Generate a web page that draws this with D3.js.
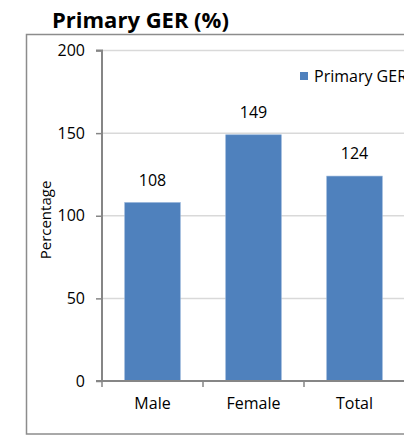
<!DOCTYPE html>
<html>
<head>
<meta charset="utf-8">
<script src="https://cdn.jsdelivr.net/npm/d3@7"></script>
<style>
  html, body { margin: 0; padding: 0; background: #fff; }
  svg { display: block; font-family: "Open Sans", Lato, sans-serif; }
</style>
</head>
<body>
<div id="chart"></div>
<script>
// Primary gross enrolment ratio by sex
const categories = ["Male", "Female", "Total"];
const values = [108, 149, 124];
const yTicks = [0, 50, 100, 150, 200];
const seriesName = "Primary GER";
const title = "Primary GER (%)";
const yLabel = "Percentage";

const W = 404, H = 436;
const FONT = "'Open Sans', Lato, sans-serif";
const svg = d3.select("#chart").append("svg")
  .attr("width", W).attr("height", H);

// chart frame (right edge runs past the window)
svg.append("rect")
  .attr("x", 26.5).attr("y", 34.5)
  .attr("width", 420).attr("height", 399.5)
  .attr("fill", "none").attr("stroke", "#8c8c8c").attr("stroke-width", 1.5);

svg.append("text")
  .attr("x", 52).attr("y", 28)
  .attr("font-size", 22).attr("font-weight", "bold")
  .attr("fill", "#000")
  .text(title);

const x = d3.scaleBand()
  .domain(categories)
  .range([102, 405])
  .paddingInner(0.45)
  .paddingOuter(0.225);

const y = d3.scaleLinear().domain([0, 200]).range([381, 50.5]);

// horizontal gridlines
svg.append("g").selectAll("line")
  .data(yTicks.filter(d => d > 0))
  .join("line")
  .attr("x1", 102).attr("x2", W)
  .attr("y1", d => y(d)).attr("y2", d => y(d))
  .attr("stroke", "#d9d9d9").attr("stroke-width", 1.5);

// bars
svg.append("g").selectAll("rect")
  .data(values)
  .join("rect")
  .attr("x", (d, i) => x(categories[i]))
  .attr("y", d => y(d))
  .attr("width", x.bandwidth())
  .attr("height", d => y(0) - y(d))
  .attr("fill", "#4f81bd")
  .attr("stroke", "#8fb0d8").attr("stroke-width", 0.6);

// value labels
svg.append("g").selectAll("text")
  .data(values)
  .join("text")
  .attr("x", (d, i) => x(categories[i]) + x.bandwidth() / 2)
  .attr("y", d => y(d) - 17)
  .attr("text-anchor", "middle")
  .attr("font-size", 16)
  .attr("fill", "#000")
  .text(d => d);

// y axis
const yAxis = d3.axisLeft(y).tickValues(yTicks).tickSize(6).tickPadding(11);
const gy = svg.append("g").attr("transform", "translate(102,0)").call(yAxis);
gy.select(".domain").attr("stroke", "#868686").attr("stroke-width", 2)
  .attr("d", `M-6,${y(200)}H0V${y(0)}`);
gy.selectAll(".tick line").attr("stroke", "#868686").attr("stroke-width", 1.5);
gy.selectAll(".tick text").attr("font-size", 16).attr("fill", "#000")
  .attr("font-family", FONT);

// x axis
const xAxis = d3.axisBottom(x).tickSize(0).tickPadding(17);
const gx = svg.append("g").attr("transform", `translate(0,${y(0)})`).call(xAxis);
gx.select(".domain").attr("stroke", "#868686").attr("stroke-width", 2)
  .attr("d", `M96,0H${W}`);
gx.selectAll(".tick text").attr("font-size", 16).attr("fill", "#000")
  .attr("font-family", FONT);

// category separator ticks
const step = x.step();
svg.append("g").selectAll("line")
  .data(d3.range(categories.length + 1))
  .join("line")
  .attr("x1", i => 102 + i * step).attr("x2", i => 102 + i * step)
  .attr("y1", y(0)).attr("y2", y(0) + 6)
  .attr("stroke", "#868686").attr("stroke-width", 1.5);

// y axis title
svg.append("text")
  .attr("transform", "translate(51,220) rotate(-90)")
  .attr("text-anchor", "middle")
  .attr("font-size", 15)
  .attr("fill", "#000")
  .text(yLabel);

// legend
const lg = svg.append("g").attr("transform", "translate(300,72)");
lg.append("rect").attr("width", 8).attr("height", 8).attr("fill", "#4f81bd");
lg.append("text").attr("x", 14).attr("y", 9.5)
  .attr("font-size", 16).attr("fill", "#000")
  .text(seriesName);
</script>
</body>
</html>
